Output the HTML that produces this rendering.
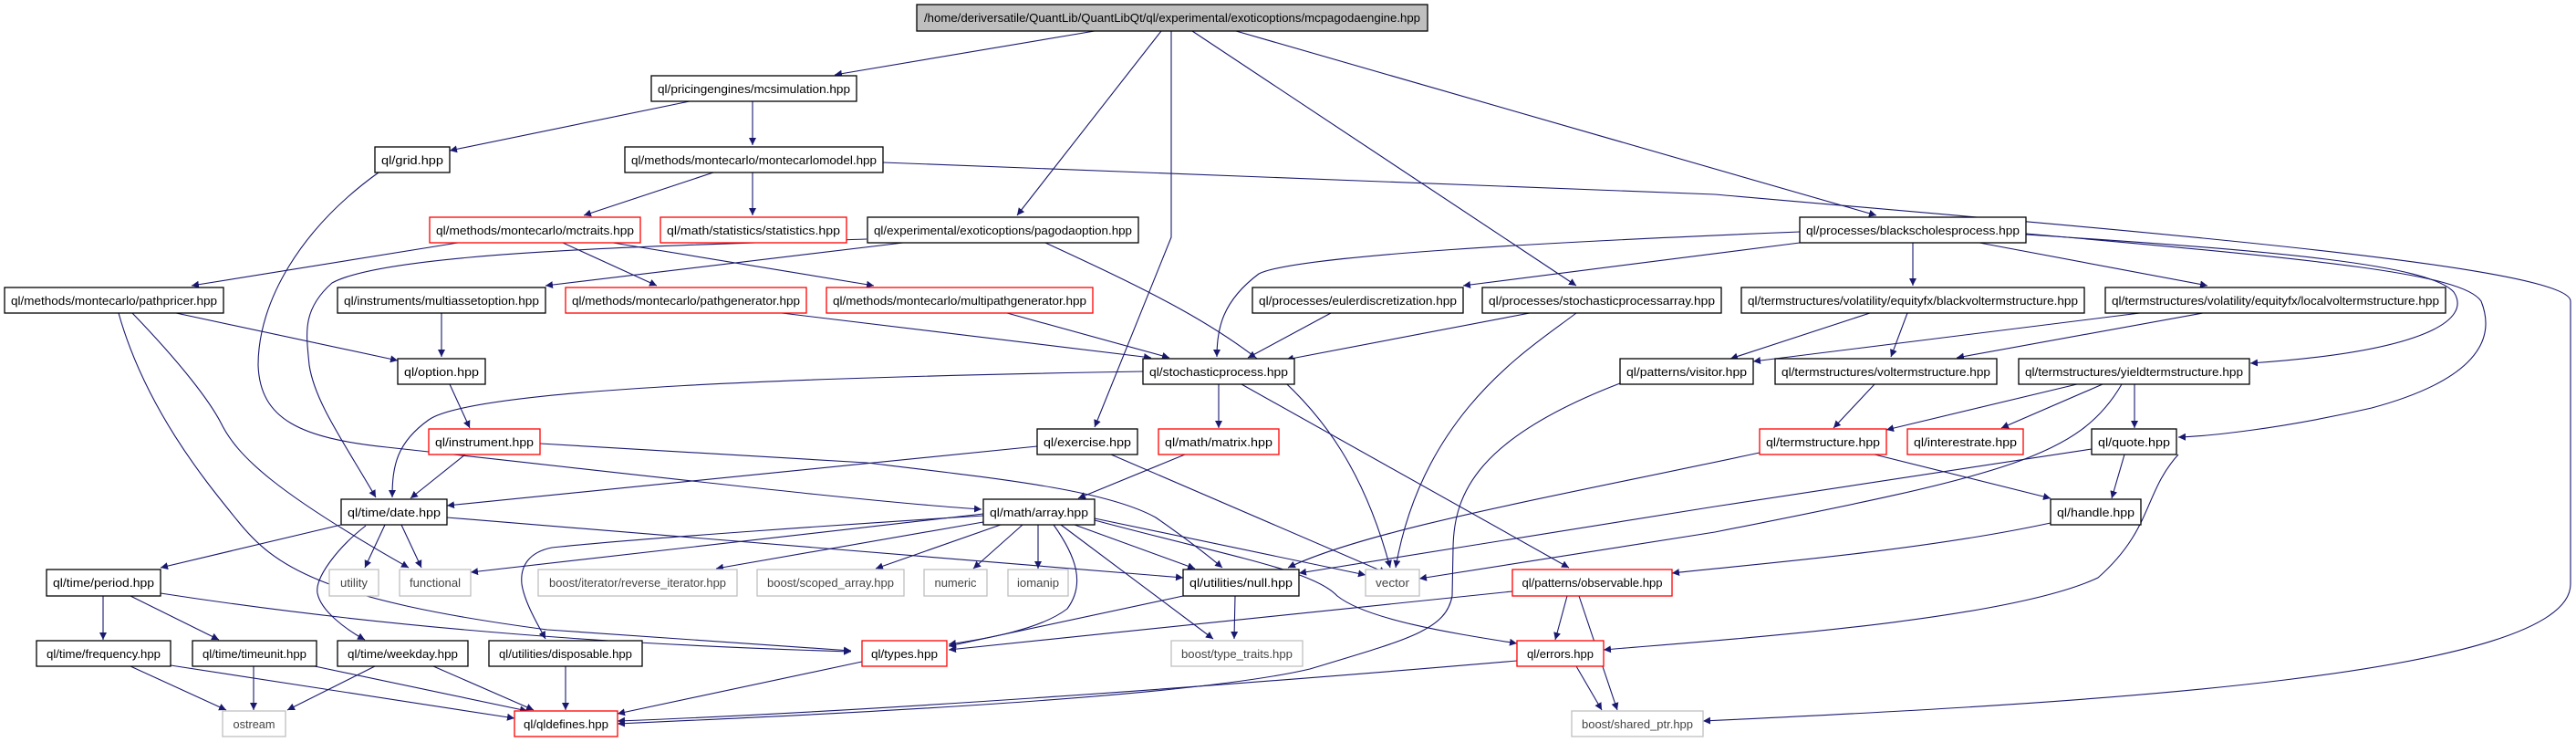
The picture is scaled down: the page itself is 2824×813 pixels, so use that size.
<!DOCTYPE html>
<html><head><meta charset="utf-8"><style>
html,body{margin:0;padding:0;background:#fff;}
svg{display:block;}
text{font-family:"Liberation Sans",sans-serif;font-size:13px;text-anchor:middle;}
.n rect{fill:#fff;stroke:#000;stroke-width:1.3;}
.r rect{fill:#fff;stroke:#ff0000;stroke-width:1.3;}
.g rect{fill:#fff;stroke:#bfbfbf;stroke-width:1.3;}
.g text{fill:#444;}
.e path{fill:none;stroke:#191970;stroke-width:1.1;marker-end:url(#a);}
</style></head><body>
<svg width="2824" height="813" viewBox="0 0 2824 813" xmlns="http://www.w3.org/2000/svg">
<defs><marker id="a" viewBox="0 0 10 10" refX="10" refY="5" markerWidth="8" markerHeight="8" markerUnits="userSpaceOnUse" orient="auto"><path d="M0,0L10,5L0,10z" fill="#191970"/></marker></defs>
<g class="e">
<path d="M1200,34 L915,82"/>
<path d="M1273,34 L1115,236"/>
<path d="M1284,34 L1284,260 L1200,468"/>
<path d="M1307,34 L1728,313"/>
<path d="M1355,34 L2057,236"/>
<path d="M756,111 L493,165"/>
<path d="M825,111 L825,159"/>
<path d="M415,189 C330,250 283,330 283,400 C285,460 330,480 424,490 C700,520 950,550 1076,558"/>
<path d="M782,189 L640,236"/>
<path d="M825,189 L825,236"/>
<path d="M968,178 L1880,213 C2300,250 2818,290 2818,330 L2818,640 C2818,740 2300,770 1867,790"/>
<path d="M502,266 L210,313"/>
<path d="M617,266 L720,313"/>
<path d="M672,266 L958,313"/>
<path d="M990,266 L598,313"/>
<path d="M1146,266 C1350,360 1470,420 1524,622"/>
<path d="M950,262 C700,270 424,277 364,310 C330,340 336,367 339,400 C345,440 376,483 412,545"/>
<path d="M484,343 L484,391"/>
<path d="M193,343 L436,395"/>
<path d="M145,343 C200,400 230,440 242,463 C260,500 303,540 448,622"/>
<path d="M130,343 C160,450 230,533 260,570 C300,620 351,657 600,690 L933,713"/>
<path d="M857,343 L1262,392"/>
<path d="M1104,343 L1282,392"/>
<path d="M1459,343 L1368,392"/>
<path d="M1677,343 L1410,394"/>
<path d="M1728,343 C1680,380 1560,450 1530,622"/>
<path d="M1973,254 C1700,265 1420,280 1380,300 C1340,330 1334,360 1334,391"/>
<path d="M1973,266 L1604,313"/>
<path d="M2097,266 L2097,313"/>
<path d="M2170,266 L2420,313"/>
<path d="M2221,257 C2500,275 2663,290 2690,320 C2710,350 2660,385 2467,398"/>
<path d="M2221,256 C2550,285 2700,300 2720,330 C2740,380 2700,420 2600,447 C2500,470 2420,478 2388,479"/>
<path d="M2050,343 L1897,393"/>
<path d="M2091,343 L2073,391"/>
<path d="M2346,343 L1922,396"/>
<path d="M2415,343 L2145,392"/>
<path d="M1776,420 C1620,480 1594,540 1593,600 L1592,653 C1585,690 1546,700 1436,733 C1300,765 900,783 677,793"/>
<path d="M2055,421 L2010,469"/>
<path d="M2277,421 L2068,471"/>
<path d="M2305,421 L2194,469"/>
<path d="M2340,421 L2340,469"/>
<path d="M2326,421 C2280,500 2200,520 1880,583 L1556,634"/>
<path d="M1929,496 C1700,545 1500,580 1412,622"/>
<path d="M2293,492 L1880,555 L1424,628"/>
<path d="M2248,573 C2100,605 1900,620 1833,628"/>
<path d="M2388,498 C2350,540 2360,580 2300,633 C2200,680 1900,700 1758,712"/>
<path d="M2055,498 L2248,546"/>
<path d="M2329,498 L2315,546"/>
<path d="M1253,407 C900,413 520,425 470,460 C435,485 430,510 430,545"/>
<path d="M1336,421 L1336,469"/>
<path d="M1361,421 L1720,622"/>
<path d="M1137,489 L490,554"/>
<path d="M1218,498 L1520,628"/>
<path d="M510,498 L450,546"/>
<path d="M592,486 L950,507 C1100,525 1213,537 1267,567 C1300,590 1320,605 1340,622"/>
<path d="M493,421 L515,469"/>
<path d="M1299,498 L1182,546"/>
<path d="M374,575 L176,622"/>
<path d="M422,575 L400,622"/>
<path d="M440,575 L462,622"/>
<path d="M401,576 C370,600 345,633 348,650 C352,670 380,690 400,701"/>
<path d="M490,567 L1297,633"/>
<path d="M113,653 L113,701"/>
<path d="M143,653 L240,701"/>
<path d="M176,650 C500,700 800,710 933,714"/>
<path d="M143,730 L248,778"/>
<path d="M187,729 L564,787"/>
<path d="M278,730 L278,778"/>
<path d="M345,730 L578,779"/>
<path d="M411,730 L315,778"/>
<path d="M475,730 L585,778"/>
<path d="M620,730 L620,778"/>
<path d="M945,725 L677,782"/>
<path d="M1663,724 C1300,755 940,780 677,790"/>
<path d="M1078,563 L516,627"/>
<path d="M1078,565 C950,573 700,590 605,600 C580,605 570,620 572,640 C575,660 590,685 598,700"/>
<path d="M1078,572 L785,623"/>
<path d="M1097,575 L960,623"/>
<path d="M1121,575 L1067,623"/>
<path d="M1138,575 L1138,623"/>
<path d="M1178,575 L1310,623"/>
<path d="M1155,575 C1180,610 1190,640 1170,667 C1140,690 1080,700 1040,706"/>
<path d="M1163,575 L1330,700"/>
<path d="M1200,568 L1497,630"/>
<path d="M1200,570 C1350,610 1440,625 1466,653 C1500,680 1600,695 1663,705"/>
<path d="M1297,653 L1040,708"/>
<path d="M1354,653 L1353,700"/>
<path d="M1658,648 L1040,712"/>
<path d="M1718,653 L1705,701"/>
<path d="M1731,653 L1773,778"/>
<path d="M1728,730 L1756,778"/>
</g>
<g class="n"><rect x="1005" y="5" width="560" height="29" style="fill:#bfbfbf"/><text x="1285" y="24" textLength="544" lengthAdjust="spacingAndGlyphs">/home/deriversatile/QuantLib/QuantLibQt/ql/experimental/exoticoptions/mcpagodaengine.hpp</text></g>
<g class="n"><rect x="714" y="83" width="225" height="28"/><text x="826.5" y="102" textLength="211" lengthAdjust="spacingAndGlyphs">ql/pricingengines/mcsimulation.hpp</text></g>
<g class="n"><rect x="411" y="161" width="82" height="28"/><text x="452" y="180" textLength="68" lengthAdjust="spacingAndGlyphs">ql/grid.hpp</text></g>
<g class="n"><rect x="685" y="161" width="283" height="28"/><text x="826.5" y="180" textLength="269" lengthAdjust="spacingAndGlyphs">ql/methods/montecarlo/montecarlomodel.hpp</text></g>
<g class="r"><rect x="471" y="238" width="231" height="28"/><text x="586.5" y="257" textLength="217" lengthAdjust="spacingAndGlyphs">ql/methods/montecarlo/mctraits.hpp</text></g>
<g class="r"><rect x="724" y="238" width="204" height="28"/><text x="826" y="257" textLength="190" lengthAdjust="spacingAndGlyphs">ql/math/statistics/statistics.hpp</text></g>
<g class="n"><rect x="951" y="238" width="297" height="28"/><text x="1099.5" y="257" textLength="283" lengthAdjust="spacingAndGlyphs">ql/experimental/exoticoptions/pagodaoption.hpp</text></g>
<g class="n"><rect x="1973" y="238" width="248" height="28"/><text x="2097" y="257" textLength="234" lengthAdjust="spacingAndGlyphs">ql/processes/blackscholesprocess.hpp</text></g>
<g class="n"><rect x="5" y="315" width="240" height="28"/><text x="125" y="334" textLength="226" lengthAdjust="spacingAndGlyphs">ql/methods/montecarlo/pathpricer.hpp</text></g>
<g class="n"><rect x="370" y="315" width="228" height="28"/><text x="484" y="334" textLength="214" lengthAdjust="spacingAndGlyphs">ql/instruments/multiassetoption.hpp</text></g>
<g class="r"><rect x="620" y="315" width="264" height="28"/><text x="752" y="334" textLength="250" lengthAdjust="spacingAndGlyphs">ql/methods/montecarlo/pathgenerator.hpp</text></g>
<g class="r"><rect x="906" y="315" width="292" height="28"/><text x="1052" y="334" textLength="278" lengthAdjust="spacingAndGlyphs">ql/methods/montecarlo/multipathgenerator.hpp</text></g>
<g class="n"><rect x="1373" y="315" width="231" height="28"/><text x="1488.5" y="334" textLength="217" lengthAdjust="spacingAndGlyphs">ql/processes/eulerdiscretization.hpp</text></g>
<g class="n"><rect x="1625" y="315" width="262" height="28"/><text x="1756" y="334" textLength="248" lengthAdjust="spacingAndGlyphs">ql/processes/stochasticprocessarray.hpp</text></g>
<g class="n"><rect x="1909" y="315" width="376" height="28"/><text x="2097" y="334" textLength="362" lengthAdjust="spacingAndGlyphs">ql/termstructures/volatility/equityfx/blackvoltermstructure.hpp</text></g>
<g class="n"><rect x="2308" y="315" width="373" height="28"/><text x="2494.5" y="334" textLength="359" lengthAdjust="spacingAndGlyphs">ql/termstructures/volatility/equityfx/localvoltermstructure.hpp</text></g>
<g class="n"><rect x="436" y="393" width="96" height="28"/><text x="484" y="412" textLength="82" lengthAdjust="spacingAndGlyphs">ql/option.hpp</text></g>
<g class="n"><rect x="1253" y="393" width="166" height="28"/><text x="1336" y="412" textLength="152" lengthAdjust="spacingAndGlyphs">ql/stochasticprocess.hpp</text></g>
<g class="n"><rect x="1776" y="393" width="146" height="28"/><text x="1849" y="412" textLength="132" lengthAdjust="spacingAndGlyphs">ql/patterns/visitor.hpp</text></g>
<g class="n"><rect x="1946" y="393" width="243" height="28"/><text x="2067.5" y="412" textLength="229" lengthAdjust="spacingAndGlyphs">ql/termstructures/voltermstructure.hpp</text></g>
<g class="n"><rect x="2213" y="393" width="253" height="28"/><text x="2339.5" y="412" textLength="239" lengthAdjust="spacingAndGlyphs">ql/termstructures/yieldtermstructure.hpp</text></g>
<g class="r"><rect x="470" y="470" width="122" height="28"/><text x="531" y="489" textLength="108" lengthAdjust="spacingAndGlyphs">ql/instrument.hpp</text></g>
<g class="n"><rect x="1137" y="470" width="110" height="28"/><text x="1192" y="489" textLength="96" lengthAdjust="spacingAndGlyphs">ql/exercise.hpp</text></g>
<g class="r"><rect x="1270" y="470" width="132" height="28"/><text x="1336" y="489" textLength="118" lengthAdjust="spacingAndGlyphs">ql/math/matrix.hpp</text></g>
<g class="r"><rect x="1929" y="470" width="139" height="28"/><text x="1998.5" y="489" textLength="125" lengthAdjust="spacingAndGlyphs">ql/termstructure.hpp</text></g>
<g class="r"><rect x="2091" y="470" width="127" height="28"/><text x="2154.5" y="489" textLength="113" lengthAdjust="spacingAndGlyphs">ql/interestrate.hpp</text></g>
<g class="n"><rect x="2293" y="470" width="93" height="28"/><text x="2339.5" y="489" textLength="79" lengthAdjust="spacingAndGlyphs">ql/quote.hpp</text></g>
<g class="n"><rect x="374" y="547" width="116" height="28"/><text x="432" y="566" textLength="102" lengthAdjust="spacingAndGlyphs">ql/time/date.hpp</text></g>
<g class="n"><rect x="1078" y="547" width="122" height="28"/><text x="1139" y="566" textLength="108" lengthAdjust="spacingAndGlyphs">ql/math/array.hpp</text></g>
<g class="n"><rect x="2248" y="547" width="99" height="28"/><text x="2297.5" y="566" textLength="85" lengthAdjust="spacingAndGlyphs">ql/handle.hpp</text></g>
<g class="n"><rect x="51" y="624" width="125" height="29"/><text x="113.5" y="643" textLength="111" lengthAdjust="spacingAndGlyphs">ql/time/period.hpp</text></g>
<g class="g"><rect x="361" y="624" width="54" height="29"/><text x="388" y="643" textLength="30" lengthAdjust="spacingAndGlyphs">utility</text></g>
<g class="g"><rect x="438" y="624" width="78" height="29"/><text x="477" y="643" textLength="56" lengthAdjust="spacingAndGlyphs">functional</text></g>
<g class="g"><rect x="590" y="624" width="218" height="29"/><text x="699" y="643" textLength="194" lengthAdjust="spacingAndGlyphs">boost/iterator/reverse_iterator.hpp</text></g>
<g class="g"><rect x="830" y="624" width="161" height="29"/><text x="910.5" y="643" textLength="139" lengthAdjust="spacingAndGlyphs">boost/scoped_array.hpp</text></g>
<g class="g"><rect x="1013" y="624" width="69" height="29"/><text x="1047.5" y="643" textLength="46" lengthAdjust="spacingAndGlyphs">numeric</text></g>
<g class="g"><rect x="1105" y="624" width="66" height="29"/><text x="1138" y="643" textLength="46" lengthAdjust="spacingAndGlyphs">iomanip</text></g>
<g class="n"><rect x="1297" y="624" width="127" height="29"/><text x="1360.5" y="643" textLength="113" lengthAdjust="spacingAndGlyphs">ql/utilities/null.hpp</text></g>
<g class="g"><rect x="1497" y="624" width="59" height="29"/><text x="1526.5" y="643" textLength="37" lengthAdjust="spacingAndGlyphs">vector</text></g>
<g class="r"><rect x="1658" y="624" width="175" height="29"/><text x="1745.5" y="643" textLength="154" lengthAdjust="spacingAndGlyphs">ql/patterns/observable.hpp</text></g>
<g class="n"><rect x="40" y="702" width="147" height="28"/><text x="113.5" y="721" textLength="125" lengthAdjust="spacingAndGlyphs">ql/time/frequency.hpp</text></g>
<g class="n"><rect x="211" y="702" width="136" height="28"/><text x="279" y="721" textLength="114" lengthAdjust="spacingAndGlyphs">ql/time/timeunit.hpp</text></g>
<g class="n"><rect x="370" y="702" width="143" height="28"/><text x="441.5" y="721" textLength="121" lengthAdjust="spacingAndGlyphs">ql/time/weekday.hpp</text></g>
<g class="n"><rect x="536" y="702" width="168" height="28"/><text x="620" y="721" textLength="146" lengthAdjust="spacingAndGlyphs">ql/utilities/disposable.hpp</text></g>
<g class="r"><rect x="945" y="702" width="93" height="28"/><text x="991.5" y="721" textLength="73" lengthAdjust="spacingAndGlyphs">ql/types.hpp</text></g>
<g class="g"><rect x="1284" y="702" width="144" height="28"/><text x="1356" y="721" textLength="122" lengthAdjust="spacingAndGlyphs">boost/type_traits.hpp</text></g>
<g class="r"><rect x="1663" y="702" width="95" height="28"/><text x="1710.5" y="721" textLength="73" lengthAdjust="spacingAndGlyphs">ql/errors.hpp</text></g>
<g class="g"><rect x="244" y="779" width="69" height="28"/><text x="278.5" y="798" textLength="46" lengthAdjust="spacingAndGlyphs">ostream</text></g>
<g class="r"><rect x="564" y="779" width="113" height="28"/><text x="620.5" y="798" textLength="93" lengthAdjust="spacingAndGlyphs">ql/qldefines.hpp</text></g>
<g class="g"><rect x="1723" y="779" width="144" height="28"/><text x="1795" y="798" textLength="122" lengthAdjust="spacingAndGlyphs">boost/shared_ptr.hpp</text></g>
</svg>
</body></html>
